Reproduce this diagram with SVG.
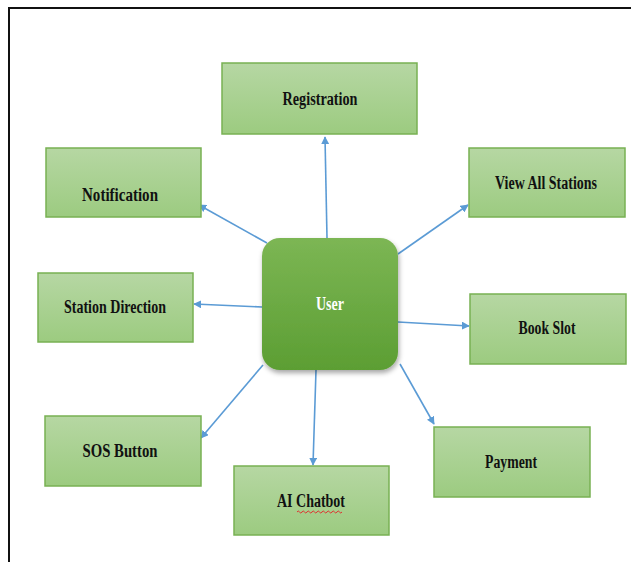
<svg xmlns="http://www.w3.org/2000/svg" width="631" height="562" viewBox="0 0 631 562">
<defs>
<linearGradient id="gBox" x1="0" y1="0" x2="0" y2="1">
<stop offset="0" stop-color="#b6d7a3"/>
<stop offset="1" stop-color="#9ccb80"/>
</linearGradient>
<linearGradient id="gUser" x1="0" y1="0" x2="0" y2="1">
<stop offset="0" stop-color="#7cb654"/>
<stop offset="1" stop-color="#5c9e33"/>
</linearGradient>
<filter id="sh" x="-20%" y="-20%" width="140%" height="140%">
<feDropShadow dx="1" dy="3" stdDeviation="2.5" flood-color="#000" flood-opacity="0.35"/>
</filter>
<marker id="ah" viewBox="0 0 10 10" refX="9" refY="5" markerWidth="8" markerHeight="8" markerUnits="userSpaceOnUse" orient="auto">
<path d="M0,0 L10,5 L0,10 z" fill="#5b9bd5"/>
</marker>
<style>
.box{fill:url(#gBox);stroke:#78b153;stroke-width:1.5}
.lbl{font-family:"Liberation Serif","Times New Roman",serif;font-weight:bold;font-size:18px;fill:#111;text-anchor:middle}
.conn{stroke:#5b9bd5;stroke-width:1.6;fill:none;marker-end:url(#ah)}
</style>
</defs>
<rect x="0" y="0" width="631" height="562" fill="#fff"/>
<rect x="9" y="8" width="640" height="600" fill="none" stroke="#111" stroke-width="2"/>

<g id="connectors">
<line class="conn" x1="327" y1="238" x2="325" y2="137"/>
<line class="conn" x1="267" y1="243" x2="199" y2="205"/>
<line class="conn" x1="398" y1="254" x2="468" y2="205"/>
<line class="conn" x1="262" y1="307" x2="194" y2="304"/>
<line class="conn" x1="398" y1="322" x2="469" y2="326"/>
<line class="conn" x1="263" y1="365" x2="201" y2="438"/>
<line class="conn" x1="316" y1="370" x2="313" y2="465"/>
<line class="conn" x1="400" y1="364" x2="434" y2="424"/>
</g>

<g id="user">
<rect x="262" y="238" width="136" height="132" rx="18" ry="18" fill="url(#gUser)" filter="url(#sh)"/>
<text x="330" y="310" class="lbl" style="fill:#fff" textLength="28" lengthAdjust="spacingAndGlyphs">User</text>
</g>

<g id="registration">
<rect class="box" x="222" y="63" width="195" height="71"/>
<text x="320" y="105" class="lbl" textLength="75" lengthAdjust="spacingAndGlyphs">Registration</text>
</g>

<g id="notification">
<rect class="box" x="46" y="148" width="155" height="69"/>
<text x="120" y="201" class="lbl" textLength="76" lengthAdjust="spacingAndGlyphs">Notification</text>
</g>

<g id="view-all-stations">
<rect class="box" x="469" y="148" width="156" height="69"/>
<text x="546" y="189" class="lbl" textLength="102" lengthAdjust="spacingAndGlyphs">View All Stations</text>
</g>

<g id="station-direction">
<rect class="box" x="38" y="273" width="155" height="69"/>
<text x="115" y="313" class="lbl" textLength="102" lengthAdjust="spacingAndGlyphs">Station Direction</text>
</g>

<g id="book-slot">
<rect class="box" x="470" y="294" width="156" height="70"/>
<text x="547" y="334" class="lbl" textLength="57" lengthAdjust="spacingAndGlyphs">Book Slot</text>
</g>

<g id="sos-button">
<rect class="box" x="45" y="416" width="156" height="70"/>
<text x="120" y="457" class="lbl" textLength="75" lengthAdjust="spacingAndGlyphs">SOS Button</text>
</g>

<g id="ai-chatbot">
<rect class="box" x="234" y="466" width="155" height="69"/>
<text x="311" y="507" class="lbl" textLength="68" lengthAdjust="spacingAndGlyphs">AI Chatbot</text>
<path d="M297,512 q1.25,-2 2.5,0 t2.5,0 t2.5,0 t2.5,0 t2.5,0 t2.5,0 t2.5,0 t2.5,0 t2.5,0 t2.5,0 t2.5,0 t2.5,0 t2.5,0 t2.5,0 t2.5,0 t2.5,0 t2.5,0 t2.5,0" fill="none" stroke="#e03030" stroke-width="1"/>
</g>

<g id="payment">
<rect class="box" x="434" y="427" width="156" height="70"/>
<text x="511" y="468" class="lbl" textLength="52" lengthAdjust="spacingAndGlyphs">Payment</text>
</g>
</svg>
